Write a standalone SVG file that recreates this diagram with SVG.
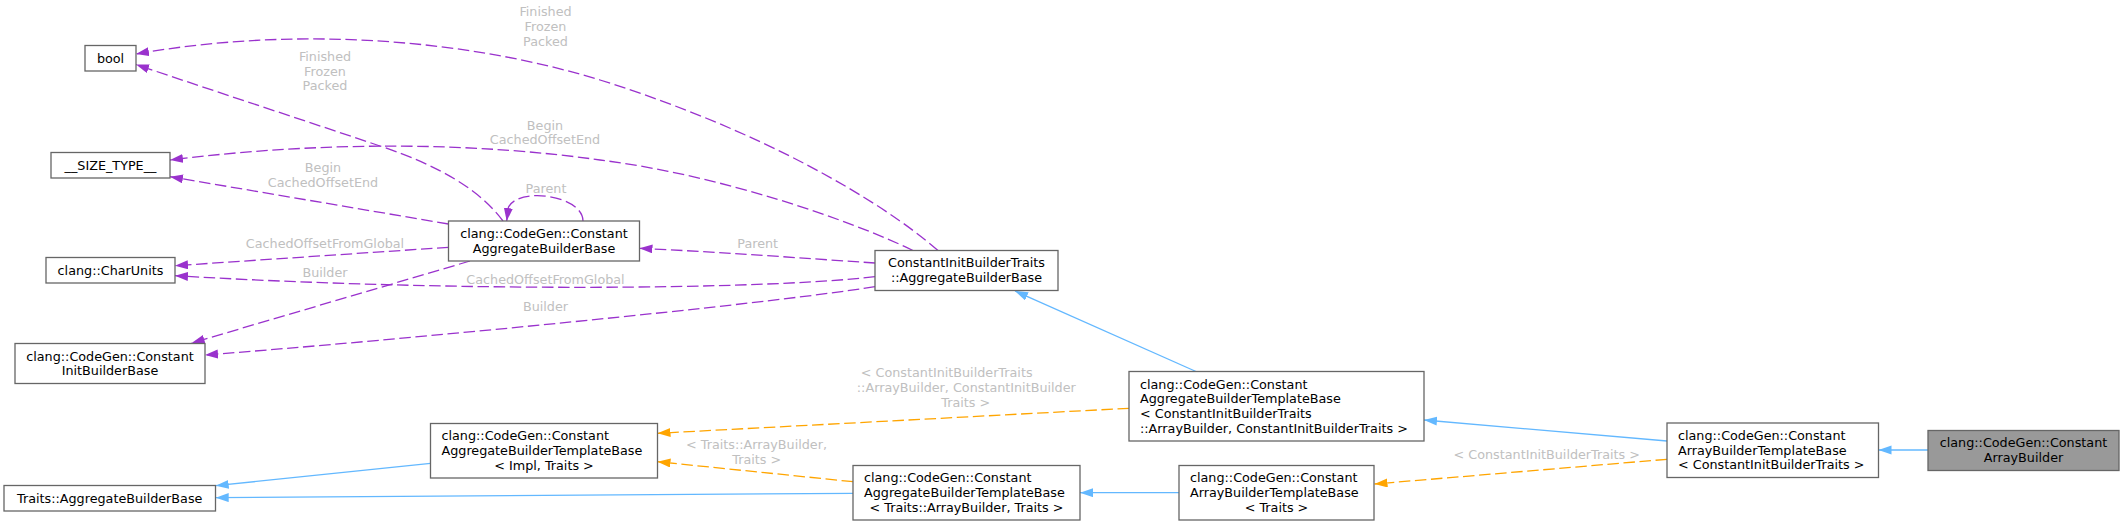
<svg xmlns="http://www.w3.org/2000/svg" width="2124" height="526" viewBox="0 0 2124 526">
<style>
.node rect{fill:#ffffff;stroke:#666666;stroke-width:1.3}
.cur rect{fill:#999999}
text{font-family:"DejaVu Sans","Noto Sans",sans-serif;font-size:12.75px;fill:#000000}
.c{text-anchor:middle}
.lbl{fill:#c0c0c0;text-anchor:middle}
.e{fill:none;stroke-width:1.3}
.use{stroke:#9a32cd;stroke-dasharray:11.5,4.6;marker-end:url(#ap)}
.inh{stroke:#63b8ff;marker-end:url(#ab)}
.tpl{stroke:#ffa500;stroke-dasharray:11.5,4.6;marker-end:url(#ao)}
</style>
<defs>
<marker id="ap" markerUnits="userSpaceOnUse" markerWidth="14" markerHeight="10" viewBox="0 0 14 10" refX="13" refY="4.5" orient="auto"><path d="M0,0 L13,4.5 L0,9 z" fill="#9a32cd"/></marker>
<marker id="ab" markerUnits="userSpaceOnUse" markerWidth="14" markerHeight="10" viewBox="0 0 14 10" refX="13" refY="4.5" orient="auto"><path d="M0,0 L13,4.5 L0,9 z" fill="#63b8ff"/></marker>
<marker id="ao" markerUnits="userSpaceOnUse" markerWidth="14" markerHeight="10" viewBox="0 0 14 10" refX="13" refY="4.5" orient="auto"><path d="M0,0 L13,4.5 L0,9 z" fill="#ffa500"/></marker>
</defs>
<rect width="2124" height="526" fill="#ffffff"/>
<g id="connectors">
<path class="e use" d="M503,221 C480,190 440,166 380,146 C300,119 220,93 136,64.5"/>
<path class="e use" d="M938,250.5 C880,200 760,130 600,80 C470,40 300,25 136,54"/>
<path class="e use" d="M448.5,224 L170,176.7"/>
<path class="e use" d="M913,250.5 C850,220 720,175 600,160 C480,143 330,140 170,160"/>
<path class="e use" d="M583,221 C583,196 520,186 508.5,207 L506.7,221"/>
<path class="e use" d="M875,263 C800,258 720,252 639.5,248.3"/>
<path class="e use" d="M448.5,247.3 L175,265.7"/>
<path class="e use" d="M875,276.7 C760,290 450,292 175,275.7"/>
<path class="e use" d="M470,261 L191.7,343"/>
<path class="e use" d="M875,286.7 C760,305 400,340 205,355"/>
<path class="e inh" d="M1196,371.5 L1015,291"/>
<path class="e inh" d="M430.5,463.3 L215.7,485.7"/>
<path class="e inh" d="M853,493.3 L215.7,497.7"/>
<path class="e inh" d="M1667,441 L1424,420"/>
<path class="e inh" d="M1179,492.7 L1080,492.7"/>
<path class="e inh" d="M1928,450 L1878.5,450"/>
<path class="e tpl" d="M1129,408.3 L657.5,433.3"/>
<path class="e tpl" d="M853,481.7 L657.5,461.7"/>
<path class="e tpl" d="M1667,459.3 L1374.5,484"/>
<text class="lbl" x="325" y="61">Finished</text>
<text class="lbl" x="325" y="75.7">Frozen</text>
<text class="lbl" x="325" y="90.4">Packed</text>
<text class="lbl" x="545.5" y="16.4">Finished</text>
<text class="lbl" x="545.5" y="31.1">Frozen</text>
<text class="lbl" x="545.5" y="45.8">Packed</text>
<text class="lbl" x="323" y="172.4">Begin</text>
<text class="lbl" x="323" y="187.1">CachedOffsetEnd</text>
<text class="lbl" x="545" y="129.7">Begin</text>
<text class="lbl" x="545" y="144.4">CachedOffsetEnd</text>
<text class="lbl" x="546" y="193">Parent</text>
<text class="lbl" x="757.7" y="248.4">Parent</text>
<text class="lbl" x="325" y="248">CachedOffsetFromGlobal</text>
<text class="lbl" x="545.5" y="284">CachedOffsetFromGlobal</text>
<text class="lbl" x="325" y="277">Builder</text>
<text class="lbl" x="545.5" y="310.7">Builder</text>
<text class="lbl" x="946.7" y="377">&lt; ConstantInitBuilderTraits</text>
<text class="lbl" x="966.3" y="392.4">::ArrayBuilder, ConstantInitBuilder</text>
<text class="lbl" x="965.7" y="407.4">Traits &gt;</text>
<text class="lbl" x="756.5" y="448.7">&lt; Traits::ArrayBuilder,</text>
<text class="lbl" x="756.8" y="463.7">Traits &gt;</text>
<text class="lbl" x="1546.8" y="459.4">&lt; ConstantInitBuilderTraits &gt;</text>
</g>
<g id="node-bool" class="node"><rect x="85" y="45.5" width="51" height="25.5"/><text class="c" x="110.5" y="62.5">bool</text></g>
<g id="node-size-type" class="node"><rect x="51" y="152.5" width="119" height="25.5"/><text class="c" x="110.5" y="169.5">__SIZE_TYPE__</text></g>
<g id="node-aggregate-builder-base" class="node"><rect x="448.5" y="221" width="191" height="40"/><text class="c" x="544" y="237.9">clang::CodeGen::Constant</text><text class="c" x="544" y="252.6">AggregateBuilderBase</text></g>
<g id="node-charunits" class="node"><rect x="46" y="257.5" width="129" height="25.5"/><text class="c" x="110.5" y="274.5">clang::CharUnits</text></g>
<g id="node-init-builder-base" class="node"><rect x="15" y="343.5" width="190" height="40"/><text class="c" x="110" y="360.5">clang::CodeGen::Constant</text><text class="c" x="110" y="375.2">InitBuilderBase</text></g>
<g id="node-traits-aggregate-builder-base" class="node"><rect x="4" y="485.5" width="211.5" height="25.5"/><text class="c" x="109.75" y="502.5">Traits::AggregateBuilderBase</text></g>
<g id="node-abtb-impl-traits" class="node"><rect x="430.5" y="423.5" width="227" height="54.5"/><text x="441.5" y="440.4">clang::CodeGen::Constant</text><text x="441.5" y="455.1">AggregateBuilderTemplateBase</text><text class="c" x="544" y="469.8">&lt; Impl, Traits &gt;</text></g>
<g id="node-cibt-aggregate-builder-base" class="node"><rect x="875" y="250.5" width="183" height="40"/><text class="c" x="966.5" y="267.4">ConstantInitBuilderTraits</text><text class="c" x="966.5" y="282.1">::AggregateBuilderBase</text></g>
<g id="node-abtb-cibt" class="node"><rect x="1129" y="371.5" width="295" height="69.5"/><text x="1140" y="388.5">clang::CodeGen::Constant</text><text x="1140" y="403.2">AggregateBuilderTemplateBase</text><text x="1140" y="417.9">&lt; ConstantInitBuilderTraits</text><text x="1140" y="432.6">::ArrayBuilder, ConstantInitBuilderTraits &gt;</text></g>
<g id="node-abtb-traits-arraybuilder" class="node"><rect x="853" y="465.5" width="227" height="54.5"/><text x="864" y="482.3">clang::CodeGen::Constant</text><text x="864" y="497">AggregateBuilderTemplateBase</text><text class="c" x="966.5" y="511.7">&lt; Traits::ArrayBuilder, Traits &gt;</text></g>
<g id="node-arraybtb-traits" class="node"><rect x="1179" y="465.5" width="195" height="54.5"/><text x="1190" y="482.3">clang::CodeGen::Constant</text><text x="1190" y="497">ArrayBuilderTemplateBase</text><text class="c" x="1276.5" y="511.7">&lt; Traits &gt;</text></g>
<g id="node-arraybtb-cibt" class="node"><rect x="1667" y="423" width="211.5" height="54.5"/><text x="1678" y="439.8">clang::CodeGen::Constant</text><text x="1678" y="454.5">ArrayBuilderTemplateBase</text><text x="1678" y="469.2">&lt; ConstantInitBuilderTraits &gt;</text></g>
<g id="node-array-builder" class="node cur"><rect x="1928" y="430.5" width="191" height="40"/><text class="c" x="2023.5" y="447.4">clang::CodeGen::Constant</text><text class="c" x="2023.5" y="462.1">ArrayBuilder</text></g>
</svg>
